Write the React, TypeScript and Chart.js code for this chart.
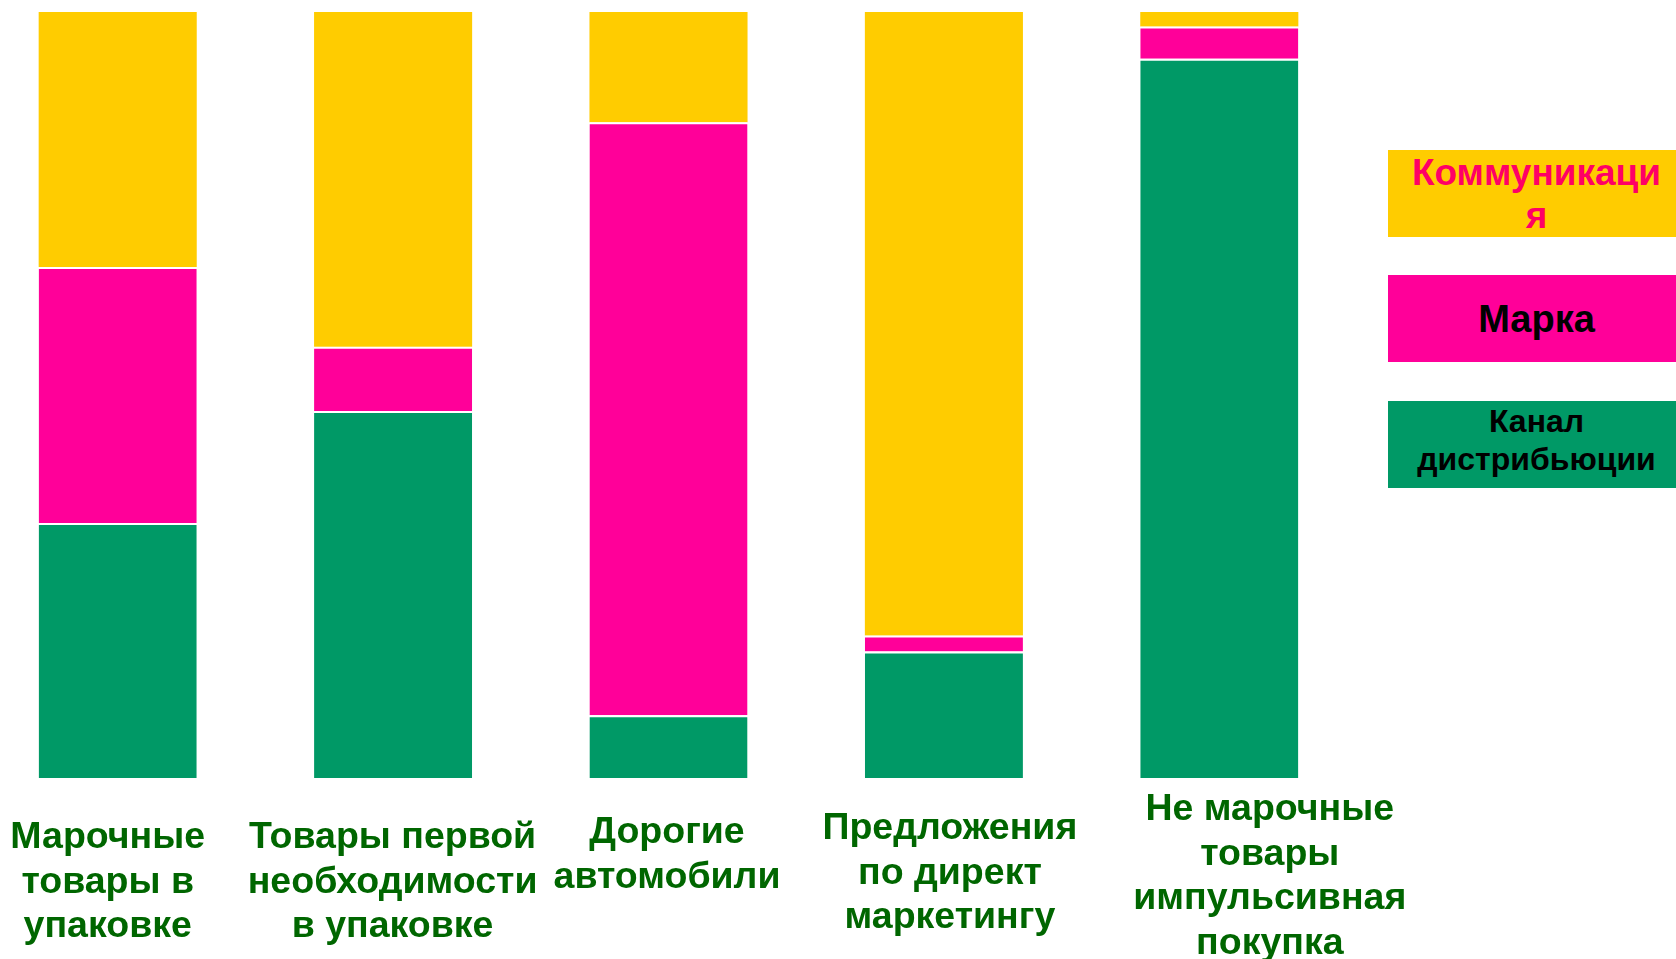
import React, { useEffect, useRef } from "react";
import { Chart, registerables } from "chart.js";

Chart.register(...registerables);

// ---- data ----
const categories: string[][] = [
  ["Марочные", "товары в", "упаковке"],
  ["Товары первой", "необходимости", "в упаковке"],
  ["Дорогие", "автомобили"],
  ["Предложения", "по директ", "маркетингу"],
  ["Не марочные", "товары", "импульсивная", "покупка"],
];
const seriesNames = ["Канал дистрибьюции", "Марка", "Коммуникация"];
const channelValues = [33.3, 47.9, 8.2, 16.5, 93.9];
const brandValues = [33.4, 8.4, 77.4, 2.1, 4.2];
const communicationValues = [33.3, 43.7, 14.4, 81.4, 1.9];

// ---- styles / layout ----
const GREEN = "#009966";
const PINK = "#FF0099";
const YELLOW = "#FFCC00";
const LABEL_GREEN = "#006600";
const FONT = "'Liberation Sans', Arial, Helvetica, sans-serif";
const LABEL_SIZE = 37.5;
const LABEL_LINE = 44.5;
// category label nudges relative to each bar's centre / the plot bottom (text boxes in the original)
const labelNudge = [
  { dx: -10, dy: 70 },
  { dx: -0.5, dy: 70 },
  { dx: -1.5, dy: 65 },
  { dx: 6, dy: 61 },
  { dx: 50.5, dy: 42 },
];

const legendItems = [
  { text: seriesNames[2], bg: YELLOW, color: "#FF0066", top: 150, size: 37, lh: 43, pb: 0 },
  { text: seriesNames[1], bg: PINK, color: "#000000", top: 275, size: 38, lh: 46, pb: 0 },
  { text: seriesNames[0], bg: GREEN, color: "#000000", top: 401, size: 32, lh: 38, pb: 10 },
];

const categoryLabelPlugin = {
  id: "categoryLabels",
  afterDraw(chart: any) {
    const { ctx, chartArea, scales } = chart;
    const xs = scales.x;
    ctx.save();
    ctx.fillStyle = LABEL_GREEN;
    ctx.font = `bold ${LABEL_SIZE}px ${FONT}`;
    ctx.textAlign = "center";
    ctx.textBaseline = "alphabetic";
    categories.forEach((lines, i) => {
      const x = xs.getPixelForValue(i) + labelNudge[i].dx;
      const y0 = chartArea.bottom + labelNudge[i].dy;
      lines.forEach((ln, j) => ctx.fillText(ln, x, y0 + j * LABEL_LINE));
    });
    ctx.restore();
  },
};

export default function App() {
  const ref = useRef<HTMLCanvasElement>(null);

  useEffect(() => {
    const sep = { top: 2, left: 0, right: 0, bottom: 0 };
    const chart = new Chart(ref.current as HTMLCanvasElement, {
      type: "bar",
      data: {
        labels: categories.map((c) => c.join(" ")),
        datasets: [
          {
            label: seriesNames[0],
            data: channelValues,
            backgroundColor: GREEN,
            borderColor: "#ffffff",
            borderWidth: sep,
            borderSkipped: false,
          },
          {
            label: seriesNames[1],
            data: brandValues,
            backgroundColor: PINK,
            borderColor: "#ffffff",
            borderWidth: sep,
            borderSkipped: false,
          },
          {
            label: seriesNames[2],
            data: communicationValues,
            backgroundColor: YELLOW,
            borderWidth: 0,
          },
        ],
      },
      options: {
        animation: false,
        responsive: false,
        layout: { padding: { top: 12, left: 0, right: 73, bottom: 0 } },
        plugins: { legend: { display: false }, tooltip: { enabled: false } },
        datasets: { bar: { categoryPercentage: 1, barPercentage: 0.574 } },
        scales: {
          x: {
            stacked: true,
            offset: true,
            grid: { display: false, drawTicks: false },
            border: { display: false },
            ticks: { display: false },
            afterFit: (s: any) => {
              s.height = 181;
              s.paddingLeft = 0;
              s.paddingRight = 0;
            },
          },
          y: { stacked: true, display: false, min: 0, max: 100 },
        },
      } as any,
      plugins: [categoryLabelPlugin],
    });
    return () => chart.destroy();
  }, []);

  return (
    <div
      style={{
        position: "fixed",
        left: 0,
        top: 0,
        width: 1676,
        height: 959,
        overflow: "hidden",
        background: "#ffffff",
      }}
    >
      <div style={{ position: "absolute", left: -20, top: 0, width: 1450, height: 959 }}>
        <canvas ref={ref} width={1450} height={959} style={{ display: "block" }} />
      </div>
      {legendItems.map((it) => (
        <div
          key={it.text}
          style={{
            position: "absolute",
            left: 1388,
            top: it.top,
            width: 297,
            height: 87,
            boxSizing: "border-box",
            padding: `0 20px ${it.pb}px 20px`,
            background: it.bg,
            display: "flex",
            alignItems: "center",
            justifyContent: "center",
            textAlign: "center",
            overflowWrap: "anywhere",
            fontFamily: FONT,
            fontWeight: "bold",
            fontSize: it.size,
            lineHeight: it.lh + "px",
            color: it.color,
          }}
        >
          <span>{it.text}</span>
        </div>
      ))}
    </div>
  );
}
